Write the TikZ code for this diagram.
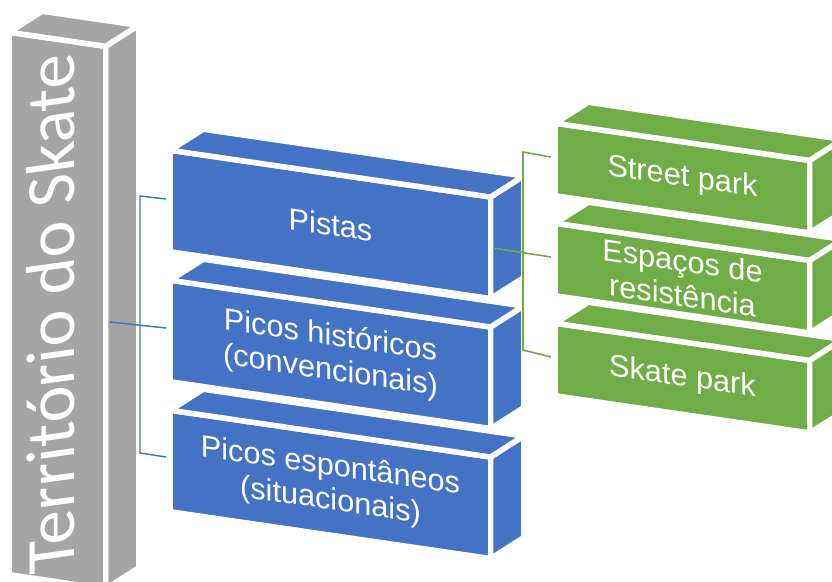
\documentclass[tikz,border=0pt]{standalone}
\usepackage{fontspec}
\setmainfont{Liberation Sans}
\newfontfamily\pillarfont{Carlito}
\definecolor{sgrey}{HTML}{A5A5A5}
\definecolor{sblue}{HTML}{4472C4}
\definecolor{sgreen}{HTML}{70AD47}
\def\skslp{0.146}
\def\skdx{33}
\def\skdy{-21}
\newcommand\skbox[6]{%
  \pgfmathsetmacro\skX{#2+#4}%
  \pgfmathsetmacro\skY{#3+\skslp*#4}%
  \filldraw[face,fill=#6] (#2,#3) -- (\skX,\skY) -- (\skX,\skY+#5) -- (#2,#3+#5) -- cycle;
  \filldraw[face,fill=#6] (#2,#3) -- (\skX,\skY) -- ++(\skdx,\skdy) -- (#2+\skdx,#3+\skdy) -- cycle;
  \filldraw[face,fill=#6] (\skX,\skY) -- ++(\skdx,\skdy) -- ++(0,#5) -- (\skX,\skY+#5) -- cycle;
  \coordinate (#1-c) at ({#2+#4/2},{#3+\skslp*#4/2+#5/2});
}
\begin{document}
\begin{tikzpicture}[x=0.75pt,y=-0.75pt,
  face/.style={draw=white,line width=4.1pt,line join=round},
  boxtext/.style={text=white,align=center,font=\fontsize{23}{26}\selectfont,yslant=-0.146,inner sep=0pt},
  pillartext/.style={text=white,font=\pillarfont\fontsize{52}{60}\selectfont,yslant=0.14,rotate=90,inner sep=0pt},
  bconn/.style={draw=sblue,line width=1.1pt},
  gconn/.style={draw=sgreen,line width=1.2pt}]
\useasboundingbox (0,0) rectangle (832,582);
\clip (0,0) rectangle (832,582);
\skbox{pil}{9.25}{32.25}{96.5}{542.5}{sgrey}
\skbox{b1}{170.25}{150.25}{320.5}{101.5}{sblue}
\skbox{b2}{170.25}{280.25}{320.5}{101.5}{sblue}
\skbox{b3}{170.25}{410.25}{320.5}{101.5}{sblue}
\skbox{g1}{555.25}{123.25}{254.5}{72.5}{sgreen}
\skbox{g2}{555.25}{223.25}{254.5}{72.5}{sgreen}
\skbox{g3}{555.25}{323.25}{254.5}{72.5}{sgreen}
\node[pillartext] (territorio) at (51,314) {Território do Skate};
\node[boxtext] (pistas) at (b1-c) {Pistas};
\node[boxtext] (historicos) at (b2-c) {Picos históricos\\(convencionais)};
\node[boxtext] (espontaneos) at (b3-c) {Picos espontâneos\\(situacionais)};
\node[boxtext] (street) at (g1-c) {Street park};
\node[boxtext] (resist) at (g2-c) {Espaços de\\resistência};
\node[boxtext] (skatepark) at (g3-c) {Skate park};
% blue bracket
\coordinate (pilR) at (110,322);
\coordinate (bj1) at (140,196);
\coordinate (bj3) at (140,453);
\coordinate (b1L) at (166,199);
\coordinate (b2L) at (166,328);
\coordinate (b3L) at (166,457);
\draw[bconn] (b1L) -- (bj1) -- (bj3) -- (b3L);
\draw[bconn] (pilR) -- (b2L);
% green bracket
\coordinate (b1R) at (493,248);
\coordinate (gj1) at (523,152);
\coordinate (gj3) at (523,350);
\coordinate (g1L) at (551,157);
\coordinate (g2L) at (551,257);
\coordinate (g3L) at (551,357);
\draw[gconn] (g1L) -- (gj1) -- (gj3) -- (g3L);
\draw[gconn] (b1R) -- (g2L);
\end{tikzpicture}
\end{document}
